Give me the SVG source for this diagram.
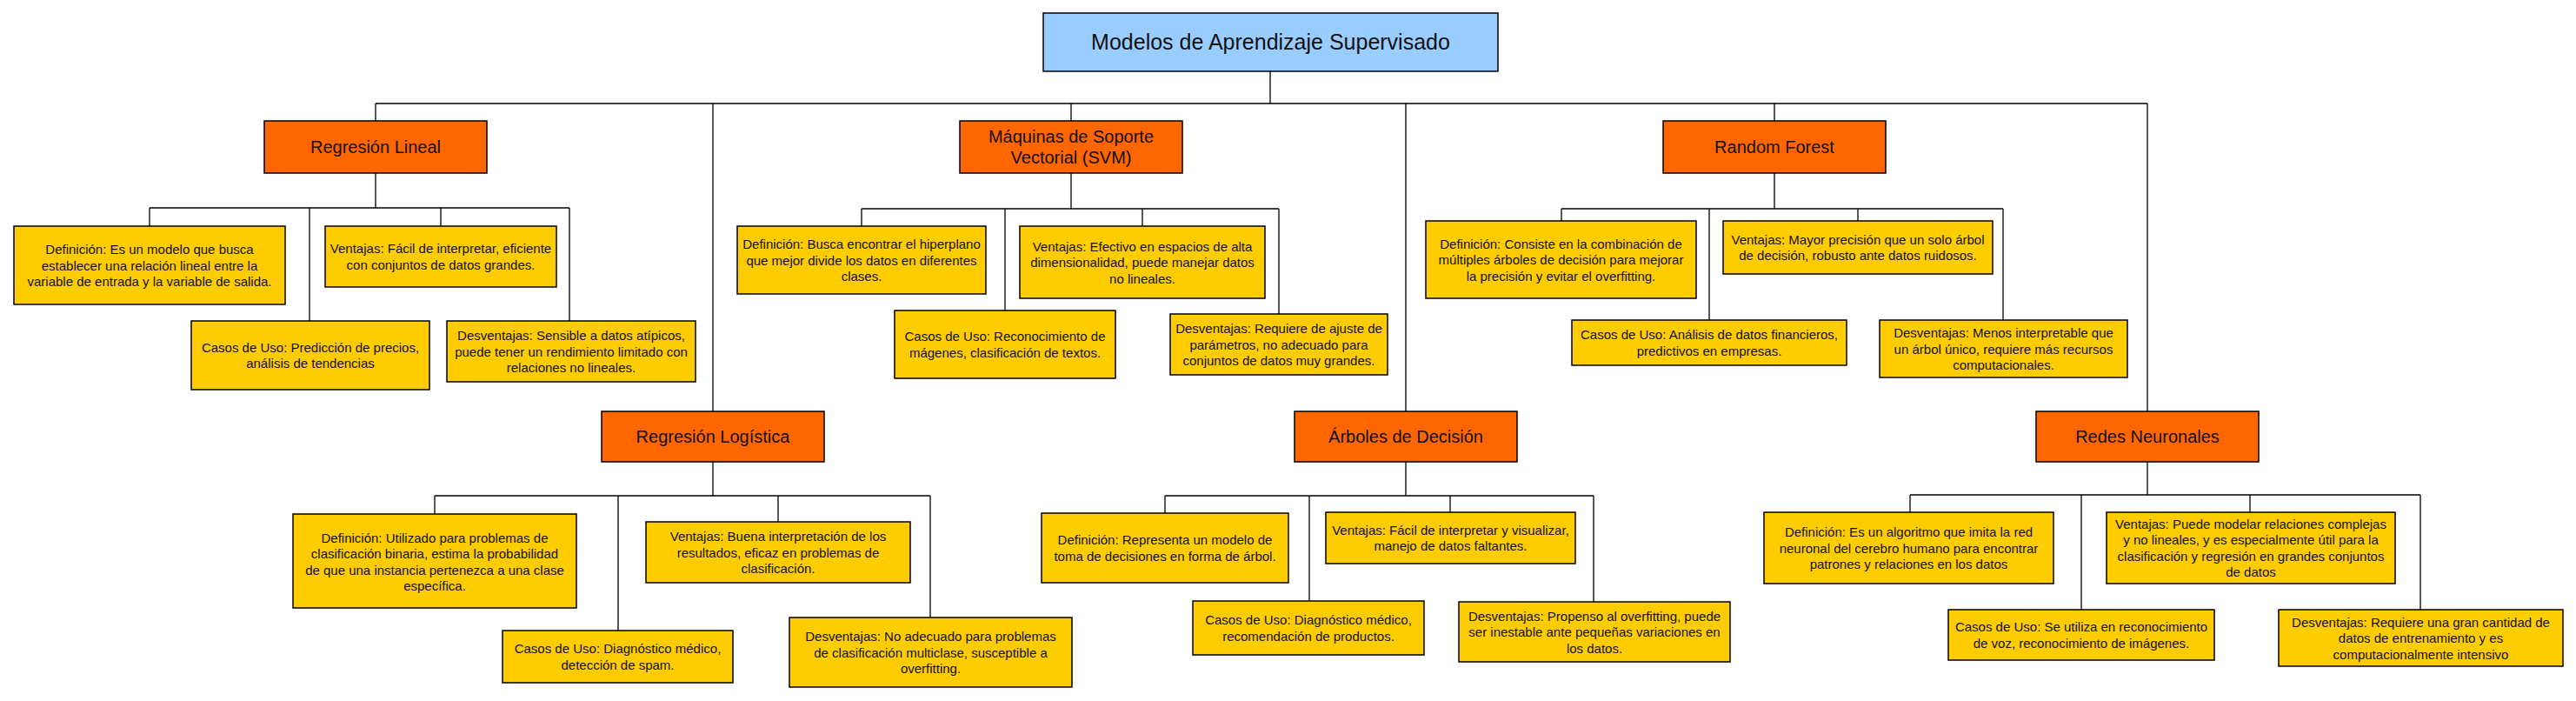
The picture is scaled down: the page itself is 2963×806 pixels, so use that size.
<svg xmlns="http://www.w3.org/2000/svg" width="2963" height="806" viewBox="0 0 2963 806">
<style>
  text { font-family: "Liberation Sans", Arial, sans-serif; fill: #111; text-anchor: middle; }
  .root rect { fill: #99CCFF; stroke: #000; stroke-width: 1.5; }
  .cat rect { fill: #FF6600; stroke: #000; stroke-width: 1.5; }
  .leaf rect { fill: #FFCC00; stroke: #000; stroke-width: 1.5; }
  .root text { font-size: 25px; }
  .cat text { font-size: 20px; }
  .leaf text { font-size: 15px; }
  #connectors path { fill: none; stroke: #000; stroke-width: 1.3; }
</style>
<rect width="2963" height="806" fill="#fff"/>
<g id="connectors">
  <path d="M432,119 H2470 M1461,82 V119 M432,119 V139 M820,119 V473 M1232,119 V139 M1617,119 V473 M2041,119 V139 M2470,119 V473"/>
  <path d="M432,199 V239 M172,239 H655 M172,239 V260 M356,239 V369 M507,239 V260 M655,239 V369"/>
  <path d="M1232,199 V240 M991,240 H1471 M991,240 V260 M1156,240 V357 M1314,240 V260 M1471,240 V361"/>
  <path d="M2041,199 V240 M1796,240 H2304 M1796,240 V254 M1966,240 V368 M2137,240 V254 M2304,240 V368"/>
  <path d="M820,531 V570 M500,570 H1070 M500,570 V591 M711,570 V725 M895,570 V600 M1070,570 V710"/>
  <path d="M1617,531 V570 M1340,570 H1833 M1340,570 V590 M1506,570 V691 M1668,570 V589 M1833,570 V692"/>
  <path d="M2470,531 V569 M2197,569 H2784 M2197,569 V589 M2394,569 V701 M2588,569 V589 M2784,569 V701"/>
</g>
<g id="root" class="root">
  <rect x="1200" y="15" width="523" height="67"/>
  <text x="1461.5" y="57">Modelos de Aprendizaje Supervisado</text>
</g>
<g id="regresion-lineal" class="cat">
  <rect x="304" y="139" width="256" height="60"/>
  <text x="432" y="176">Regresión Lineal</text>
</g>
<g id="svm" class="cat">
  <rect x="1104" y="139" width="256" height="60"/>
  <text x="1232" y="164">Máquinas de Soporte</text>
  <text x="1232" y="188">Vectorial (SVM)</text>
</g>
<g id="random-forest" class="cat">
  <rect x="1913" y="139" width="256" height="60"/>
  <text x="2041" y="176">Random Forest</text>
</g>
<g id="regresion-logistica" class="cat">
  <rect x="692" y="473" width="256" height="58"/>
  <text x="820" y="509">Regresión Logística</text>
</g>
<g id="arboles" class="cat">
  <rect x="1489" y="473" width="256" height="58"/>
  <text x="1617" y="509">Árboles de Decisión</text>
</g>
<g id="redes" class="cat">
  <rect x="2342" y="473" width="256" height="58"/>
  <text x="2470" y="509">Redes Neuronales</text>
</g>

<g id="rl-def" class="leaf">
  <rect x="16" y="260" width="312" height="90"/>
  <text x="172" y="292">Definición: Es un modelo que busca</text>
  <text x="172" y="310.5">establecer una relación lineal entre la</text>
  <text x="172" y="329">variable de entrada y la variable de salida.</text>
</g>
<g id="rl-vent" class="leaf">
  <rect x="374" y="260" width="266" height="70"/>
  <text x="507" y="291">Ventajas: Fácil de interpretar, eficiente</text>
  <text x="507" y="309.5">con conjuntos de datos grandes.</text>
</g>
<g id="rl-casos" class="leaf">
  <rect x="220" y="369" width="274" height="79"/>
  <text x="357" y="404.5">Casos de Uso: Predicción de precios,</text>
  <text x="357" y="423">análisis de tendencias</text>
</g>
<g id="rl-desv" class="leaf">
  <rect x="514" y="369" width="286" height="70"/>
  <text x="657" y="391">Desventajas: Sensible a datos atípicos,</text>
  <text x="657" y="409.5">puede tener un rendimiento limitado con</text>
  <text x="657" y="428">relaciones no lineales.</text>
</g>

<g id="svm-def" class="leaf">
  <rect x="848" y="260" width="286" height="78"/>
  <text x="991" y="286">Definición: Busca encontrar el hiperplano</text>
  <text x="991" y="304.5">que mejor divide los datos en diferentes</text>
  <text x="991" y="323">clases.</text>
</g>
<g id="svm-vent" class="leaf">
  <rect x="1173" y="260" width="282" height="83"/>
  <text x="1314" y="288.5">Ventajas: Efectivo en espacios de alta</text>
  <text x="1314" y="307">dimensionalidad, puede manejar datos</text>
  <text x="1314" y="325.5">no lineales.</text>
</g>
<g id="svm-casos" class="leaf">
  <rect x="1029" y="357" width="254" height="78"/>
  <text x="1156" y="392">Casos de Uso: Reconocimiento de</text>
  <text x="1156" y="410.5">mágenes, clasificación de textos.</text>
</g>
<g id="svm-desv" class="leaf">
  <rect x="1346" y="361" width="250" height="70"/>
  <text x="1471" y="383">Desventajas: Requiere de ajuste de</text>
  <text x="1471" y="401.5">parámetros, no adecuado para</text>
  <text x="1471" y="420">conjuntos de datos muy grandes.</text>
</g>

<g id="rf-def" class="leaf">
  <rect x="1640" y="254" width="311" height="89"/>
  <text x="1795.5" y="285.5">Definición: Consiste en la combinación de</text>
  <text x="1795.5" y="304">múltiples árboles de decisión para mejorar</text>
  <text x="1795.5" y="322.5">la precisión y evitar el overfitting.</text>
</g>
<g id="rf-vent" class="leaf">
  <rect x="1982" y="254" width="310" height="61"/>
  <text x="2137" y="280.5">Ventajas: Mayor precisión que un solo árbol</text>
  <text x="2137" y="299">de decisión, robusto ante datos ruidosos.</text>
</g>
<g id="rf-casos" class="leaf">
  <rect x="1808" y="368" width="316" height="52"/>
  <text x="1966" y="390">Casos de Uso: Análisis de datos financieros,</text>
  <text x="1966" y="408.5">predictivos en empresas.</text>
</g>
<g id="rf-desv" class="leaf">
  <rect x="2162" y="368" width="285" height="66"/>
  <text x="2304.5" y="388">Desventajas: Menos interpretable que</text>
  <text x="2304.5" y="406.5">un árbol único, requiere más recursos</text>
  <text x="2304.5" y="425">computacionales.</text>
</g>

<g id="rlog-def" class="leaf">
  <rect x="337" y="591" width="326" height="108"/>
  <text x="500" y="623.5">Definición: Utilizado para problemas de</text>
  <text x="500" y="642">clasificación binaria, estima la probabilidad</text>
  <text x="500" y="660.5">de que una instancia pertenezca a una clase</text>
  <text x="500" y="679">específica.</text>
</g>
<g id="rlog-vent" class="leaf">
  <rect x="743" y="600" width="304" height="70"/>
  <text x="895" y="622">Ventajas: Buena interpretación de los</text>
  <text x="895" y="640.5">resultados, eficaz en problemas de</text>
  <text x="895" y="659">clasificación.</text>
</g>
<g id="rlog-casos" class="leaf">
  <rect x="578" y="725" width="265" height="60"/>
  <text x="710.5" y="751">Casos de Uso: Diagnóstico médico,</text>
  <text x="710.5" y="769.5">detección de spam.</text>
</g>
<g id="rlog-desv" class="leaf">
  <rect x="908" y="710" width="325" height="80"/>
  <text x="1070.5" y="737">Desventajas: No adecuado para problemas</text>
  <text x="1070.5" y="755.5">de clasificación multiclase, susceptible a</text>
  <text x="1070.5" y="774">overfitting.</text>
</g>

<g id="arb-def" class="leaf">
  <rect x="1198" y="590" width="284" height="80"/>
  <text x="1340" y="626">Definición: Representa un modelo de</text>
  <text x="1340" y="644.5">toma de decisiones en forma de árbol.</text>
</g>
<g id="arb-vent" class="leaf">
  <rect x="1525" y="589" width="287" height="59"/>
  <text x="1668.5" y="614.5">Ventajas: Fácil de interpretar y visualizar,</text>
  <text x="1668.5" y="633">manejo de datos faltantes.</text>
</g>
<g id="arb-casos" class="leaf">
  <rect x="1372" y="691" width="266" height="62"/>
  <text x="1505" y="718">Casos de Uso: Diagnóstico médico,</text>
  <text x="1505" y="736.5">recomendación de productos.</text>
</g>
<g id="arb-desv" class="leaf">
  <rect x="1678" y="692" width="312" height="69"/>
  <text x="1834" y="713.5">Desventajas: Propenso al overfitting, puede</text>
  <text x="1834" y="732">ser inestable ante pequeñas variaciones en</text>
  <text x="1834" y="750.5">los datos.</text>
</g>

<g id="redes-def" class="leaf">
  <rect x="2029" y="589" width="333" height="82"/>
  <text x="2195.5" y="617">Definición: Es un algoritmo que imita la red</text>
  <text x="2195.5" y="635.5">neuronal del cerebro humano para encontrar</text>
  <text x="2195.5" y="654">patrones y relaciones en los datos</text>
</g>
<g id="redes-vent" class="leaf">
  <rect x="2423" y="589" width="332" height="82"/>
  <text x="2589" y="607.5">Ventajas: Puede modelar relaciones complejas</text>
  <text x="2589" y="626">y no lineales, y es especialmente útil para la</text>
  <text x="2589" y="644.5">clasificación y regresión en grandes conjuntos</text>
  <text x="2589" y="663">de datos</text>
</g>
<g id="redes-casos" class="leaf">
  <rect x="2241" y="701" width="306" height="58"/>
  <text x="2394" y="726">Casos de Uso: Se utiliza en reconocimiento</text>
  <text x="2394" y="744.5">de voz, reconocimiento de imágenes.</text>
</g>
<g id="redes-desv" class="leaf">
  <rect x="2621" y="701" width="327" height="65"/>
  <text x="2784.5" y="720.5">Desventajas: Requiere una gran cantidad de</text>
  <text x="2784.5" y="739">datos de entrenamiento y es</text>
  <text x="2784.5" y="757.5">computacionalmente intensivo</text>
</g>
</svg>
